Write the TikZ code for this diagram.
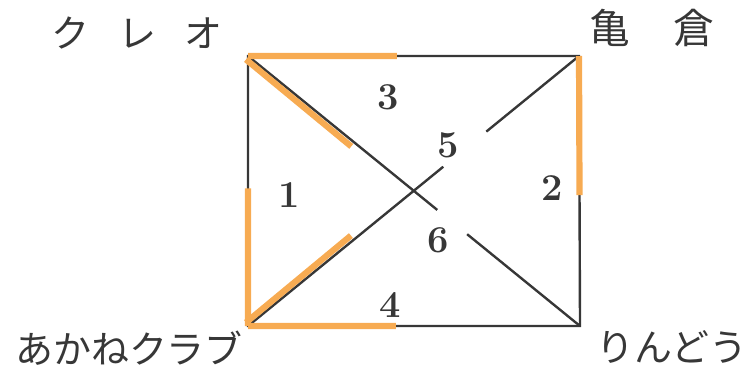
\documentclass[tikz,border=0pt]{standalone}
\usepackage{fontspec}
\newfontfamily\jpfont{Noto Sans CJK JP}
\usetikzlibrary{positioning, calc}
\definecolor{route}{RGB}{247,171,82}
\definecolor{ink}{RGB}{55,55,55}

\begin{document}
\begin{tikzpicture}[
    x=0.025cm, y=-0.025cm,
    wall/.style={draw=ink, line width=1.7pt},
    hl/.style={draw=route, line width=4.4pt},
    num/.style={font=\bfseries\fontsize{27}{27}\selectfont, text=ink},
    shop/.style={font=\jpfont\fontsize{27}{27}\selectfont, text=ink}
]
\useasboundingbox (0,0) rectangle (753,377);

% Corners
\coordinate (kureo) at (248,56);
\coordinate (kamakura) at (579,56);
\coordinate (akane) at (248,326);
\coordinate (rindou) at (580,326);

% Shop names
\node (kureoname) [shop] at (137,33) {ク\hspace{0.75em}レ\hspace{0.75em}オ};
\node (kamakuraname) [shop, font=\jpfont\fontsize{29}{29}\selectfont] at (652,28) {亀\hspace{1.05em}倉};
\node (akanename) [shop] at (129,348) {あかねクラブ};
\node (rindouname) [shop] at (672,347) {りんどう};

% Areas
\node (n1) [num] at (289,195) {1};
\node (n2) [num] at (552,188) {2};
\node (n3) [num] at (388,97) {3};
\node (n4) [num] at (390,305) {4};
\node (n5) [num] at (448,145) {5};
\node (n6) [num] at (438,240) {6};

% Diagonal ends
\coordinate (d1) at ($(kureo)!0.57!(rindou)$);
\coordinate (d2) at ($(kureo)!0.66!(rindou)$);
\coordinate (d3) at ($(akane)!0.59!(kamakura)$);
\coordinate (d4) at ($(akane)!0.72!(kamakura)$);

% Roads
\draw [wall] (kureo) -- (kamakura) -- (rindou) -- (akane) -- cycle;
\draw [wall] (kureo) -- (d1);
\draw [wall] (d2) -- (rindou);
\draw [wall] (akane) -- (d3);
\draw [wall] (d4) -- (kamakura);

% Route
\draw [hl] (kureo) -- ($(kureo)!0.45!(kamakura)$);
\draw [hl] (akane) -- ($(akane)!0.445!(rindou)$);
\draw [hl] (akane) -- ($(akane)!0.51!(kureo)$);
\draw [hl] (kamakura) -- ($(kamakura)!0.515!(rindou)$);
\draw [hl] ($(kureo)+(-2,3.5)$) -- ($(kureo)!0.32!(rindou)+(-3,4)$);
\draw [hl] ($(akane)+(-2,-3.5)$) -- ($(akane)!0.32!(kamakura)+(-3,-4)$);

\end{tikzpicture}
\end{document}
